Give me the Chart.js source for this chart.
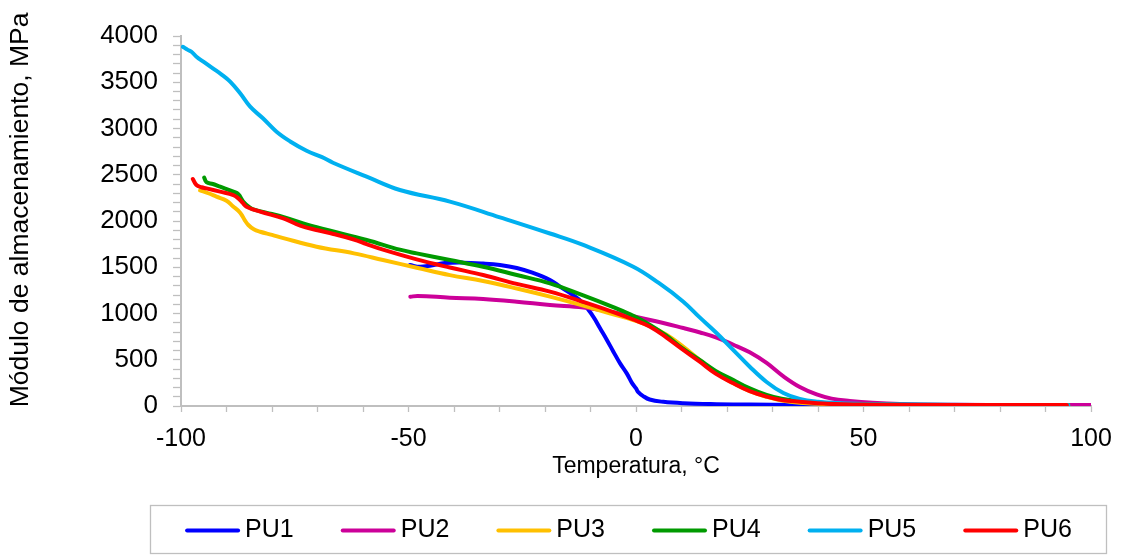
<!DOCTYPE html>
<html>
<head>
<meta charset="utf-8">
<script src="https://cdn.jsdelivr.net/npm/chart.js@4"></script>
<style>
  html, body { margin: 0; padding: 0; background: #ffffff; }
  #wrap { width: 1126px; height: 555px; }
</style>
</head>
<body>
<div id="wrap"><canvas id="c" width="1126" height="555"></canvas></div>
<script>
// ---------------- data ----------------
const seriesNames = ['PU1', 'PU2', 'PU3', 'PU4', 'PU5', 'PU6'];

const tempPU1 = [-49.7, -47.5, -45, -42, -38, -33.6, -29.9, -26.2, -22.6, -18.9, -16.7, -14, -11.6, -9.4, -7.9, -6.4, -5, -3.5, -2, -0.9, 0, 0.5, 1.5, 3, 6, 10.4, 17.7, 25, 35, 50, 70, 95];
const modPU1  = [1524, 1505, 1520, 1545, 1550, 1540, 1524, 1492, 1438, 1362, 1290, 1205, 1110, 966, 840, 714, 590, 461, 350, 250, 190, 150, 110, 70, 45, 30, 20, 15, 12, 10, 10, 10];

const tempPU2 = [-49.6, -48, -40.9, -33.6, -26.2, -18.9, -11.6, -4.2, 3.1, 10.4, 14.1, 17.7, 21.3, 25, 28.7, 32.4, 36, 39.7, 43, 47, 52, 58, 70, 85, 100];
const modPU2  = [1180, 1190, 1171, 1157, 1128, 1092, 1065, 1005, 930, 843, 795, 740, 665, 580, 465, 320, 205, 125, 80, 55, 35, 22, 14, 11, 10];

const tempPU3 = [-95.8, -94, -92.2, -90, -88.6, -87, -86, -85.2, -84, -82.6, -80, -77.5, -70.2, -62, -55.6, -48.2, -40.9, -33.6, -26.2, -18.9, -11.6, -5, -0.6, 3, 6.7, 10, 14, 17.5, 21.4, 25, 28.7, 32, 36, 42, 50, 70, 95];
const modPU3  = [2330, 2300, 2263, 2220, 2160, 2090, 2010, 1957, 1910, 1884, 1850, 1815, 1722, 1650, 1578, 1495, 1415, 1351, 1270, 1182, 1085, 990, 930, 865, 770, 655, 497, 360, 245, 160, 100, 60, 36, 20, 13, 10, 10];

const tempPU4 = [-94.9, -94.4, -93, -91.4, -88.5, -87.4, -86.3, -85, -84.1, -80, -77.6, -70.2, -59.2, -51.9, -48.2, -40.9, -33.6, -26.2, -18.9, -11.6, -5, -0.6, 3, 6.7, 10, 14, 17.5, 21.4, 25, 28.7, 32, 36, 42, 50, 70, 95];
const modPU4  = [2470, 2420, 2400, 2371, 2317, 2290, 2209, 2150, 2126, 2075, 2045, 1932, 1795, 1690, 1650, 1578, 1506, 1416, 1326, 1195, 1068, 975, 880, 760, 630, 497, 380, 281, 190, 119, 80, 54, 30, 18, 11, 10];

const tempPU5 = [-99.6, -98.5, -97.7, -96.6, -95, -93, -91, -89.2, -87, -84.8, -82, -79, -76, -72.4, -69, -66.6, -59.2, -51.9, -40.9, -29.9, -18.9, -11.6, -0.6, 5, 10.4, 14, 17.7, 21.4, 25, 28.7, 32.4, 36, 40, 45, 50.8, 60, 75, 95];
const modPU5  = [3884, 3850, 3830, 3776, 3720, 3650, 3580, 3506, 3380, 3236, 3110, 2965, 2860, 2760, 2690, 2630, 2479, 2335, 2210, 2040, 1865, 1741, 1506, 1330, 1128, 958, 789, 605, 425, 260, 140, 75, 45, 30, 22, 15, 11, 10];

const tempPU6 = [-97.4, -96.6, -95.5, -94.4, -91.4, -88.5, -87.4, -86.5, -85.6, -82.6, -77.5, -73.8, -70, -66.5, -62, -59.2, -55.6, -48.2, -40.9, -33.6, -26.2, -18.9, -11.6, -5, -0.6, 3, 6.7, 10, 14, 17.5, 21.4, 25, 28.7, 32, 36, 42, 50, 70, 94.7];
const modPU6  = [2454, 2389, 2365, 2353, 2317, 2281, 2245, 2200, 2155, 2101, 2029, 1950, 1900, 1860, 1800, 1750, 1690, 1585, 1497, 1416, 1320, 1236, 1125, 1015, 935, 860, 740, 620, 479, 350, 245, 160, 101, 65, 46, 25, 15, 10, 10];

const xTickLabels = [-100, -50, 0, 50, 100];
const yTickLabels = [0, 500, 1000, 1500, 2000, 2500, 3000, 3500, 4000];

const seriesColors = ['#0000ff', '#cc0099', '#ffc000', '#009a00', '#00b0f0', '#ff0000'];

// ---------------- build ----------------
const temps = [tempPU1, tempPU2, tempPU3, tempPU4, tempPU5, tempPU6];
const mods  = [modPU1, modPU2, modPU3, modPU4, modPU5, modPU6];

const datasets = seriesNames.map((name, i) => ({
  label: name,
  data: temps[i].map((t, k) => ({ x: t, y: mods[i][k] })),
  borderColor: seriesColors[i],
  backgroundColor: seriesColors[i],
  borderWidth: 4,
  pointRadius: 0,
  showLine: true,
  fill: false,
  tension: 0.4,
  borderCapStyle: 'round',
  borderJoinStyle: 'round',
  order: seriesNames.length - 1 - i
}));

const FONT = '"Liberation Sans", Arial, sans-serif';
const axisGray = '#bfbfbf';

const boxedLegend = {
  id: 'boxedLegend',
  afterDraw(chart) {
    const ctx = chart.ctx;
    const box = { left: 150.5, right: 1106.5, top: 505.5, bottom: 553.5 };
    ctx.save();
    ctx.strokeStyle = axisGray;
    ctx.lineWidth = 1.3;
    ctx.strokeRect(box.left, box.top, box.right - box.left, box.bottom - box.top);
    ctx.font = '25px ' + FONT;
    ctx.textBaseline = 'middle';
    ctx.textAlign = 'left';
    const lineLen = 55, gap = 5, itemGap = 47;
    const ds = chart.data.datasets;
    const widths = ds.map(d => lineLen + gap + ctx.measureText(d.label).width);
    const total = widths.reduce((a, b) => a + b, 0) + itemGap * (ds.length - 1);
    let x = (box.left + box.right) / 2 - total / 2;
    const y = (box.top + box.bottom) / 2 + 1;
    ds.forEach((d, i) => {
      ctx.strokeStyle = d.borderColor;
      ctx.lineWidth = 4;
      ctx.lineCap = 'round';
      ctx.beginPath();
      ctx.moveTo(x + 2, y);
      ctx.lineTo(x + lineLen - 2, y);
      ctx.stroke();
      ctx.fillStyle = '#000000';
      ctx.fillText(d.label, x + lineLen + gap, y);
      x += widths[i] + itemGap;
    });
    ctx.restore();
  }
};

new Chart(document.getElementById('c'), {
  type: 'scatter',
  data: { datasets },
  options: {
    responsive: false,
    devicePixelRatio: 1,
    animation: false,
    layout: { padding: { left: 0, right: 35, top: 36, bottom: 60 } },
    plugins: {
      legend: { display: false },
      tooltip: { enabled: false }
    },
    scales: {
      x: {
        type: 'linear',
        min: -100, max: 100,
        afterFit(s) { s.height = 89; },
        ticks: {
          stepSize: 10,
          autoSkip: false,
          maxRotation: 0,
          padding: 12,
          color: '#000000',
          font: { family: FONT, size: 25 },
          callback: v => xTickLabels.includes(v) ? String(v) : ''
        },
        grid: { drawOnChartArea: false, drawTicks: true, tickLength: 6, tickColor: axisGray, tickWidth: 1.3 },
        border: { display: true, color: axisGray, width: 2 },
        title: {
          display: true, text: 'Temperatura, °C', color: '#000000',
          font: { family: FONT, size: 23 }, padding: { top: 0, bottom: 15 }
        }
      },
      y: {
        type: 'linear',
        min: 0, max: 4000,
        afterFit(s) { s.width = 181; },
        ticks: {
          stepSize: 100,
          autoSkip: false,
          padding: 15,
          color: '#000000',
          font: { family: FONT, size: 26 },
          callback: v => yTickLabels.includes(v) ? String(v) : ''
        },
        grid: { drawOnChartArea: false, drawTicks: true, tickLength: 8, tickColor: axisGray, tickWidth: 1.3 },
        border: { display: true, color: axisGray, width: 2 },
        title: {
          display: true, text: '   Módulo de almacenamiento, MPa', color: '#000000',
          font: { family: FONT, size: 26.5 }, padding: { top: 5, bottom: 0 }
        }
      }
    }
  },
  plugins: [boxedLegend]
});
</script>
</body>
</html>
